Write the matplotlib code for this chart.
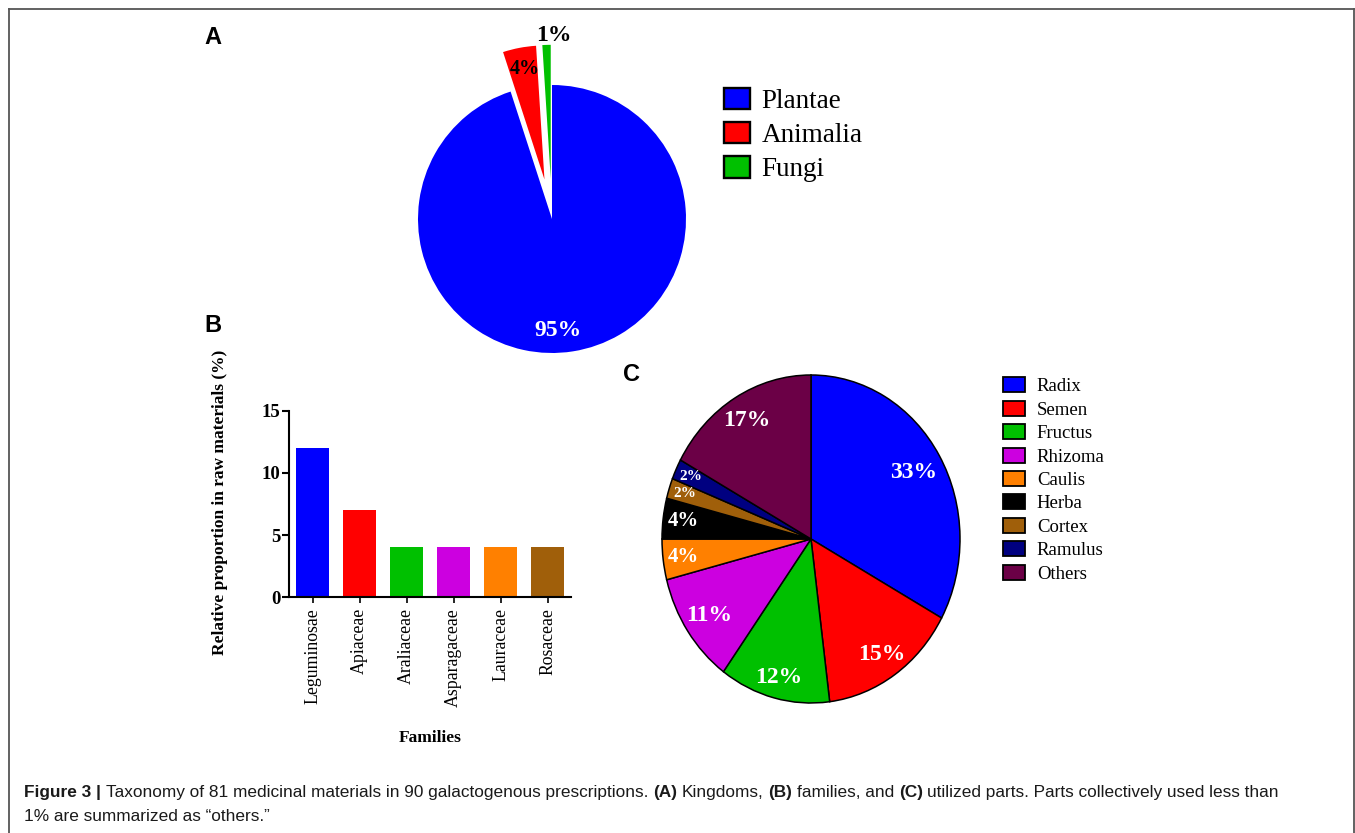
import numpy as np
import matplotlib
matplotlib.use("Agg")
import matplotlib.pyplot as plt
from matplotlib.lines import Line2D
from matplotlib.patches import Patch

# ---------------- data ----------------
kingdoms = ["Plantae", "Animalia", "Fungi"]
kingdom_pct = [95, 4, 1]
kingdom_colors = ["#0000FF", "#FF0000", "#00C000"]

families = ["Leguminosae", "Apiaceae", "Araliaceae", "Asparagaceae", "Lauraceae", "Rosaceae"]
family_pct = [12, 7, 4, 4, 4, 4]
family_colors = ["#0000FF", "#FF0000", "#00C000", "#CC00E0", "#FF8000", "#A05F0A"]

parts = ["Radix", "Semen", "Fructus", "Rhizoma", "Caulis", "Herba", "Cortex", "Ramulus", "Others"]
part_pct = [33, 15, 12, 11, 4, 4, 2, 2, 17]
part_colors = ["#0000FF", "#FF0000", "#00C000", "#CC00E0", "#FF8000", "#000000",
               "#A05F0A", "#000080", "#6B0046"]

W, H = 1355, 833
SERIF = "Liberation Serif"
SANS = "Liberation Sans"

fig = plt.figure(figsize=(W / 100, H / 100), dpi=100)
fig.patch.set_facecolor("white")


def px_axes(left, top, width, height):
    """Create axes from pixel geometry (origin at top-left)."""
    return fig.add_axes([left / W, 1 - (top + height) / H, width / W, height / H])


# ---------------- panel A: kingdoms ----------------
ra = 134.0
cxa, cya = 552.0, 219.0
lim_a = 1.4
axA = px_axes(cxa - lim_a * ra, cya - lim_a * ra, 2 * lim_a * ra, 2 * lim_a * ra)
explode_a = [0.0, 0.3, 0.3]
wedgesA, _ = axA.pie(kingdom_pct, colors=kingdom_colors, startangle=90, counterclock=False,
                     explode=explode_a, wedgeprops=dict(linewidth=0))
axA.set_aspect("auto")
axA.set_xlim(-lim_a, lim_a)
axA.set_ylim(-lim_a, lim_a)

# label placement (radius from wedge centre, angle shift, size, colour)
label_a_style = [(0.83, -6, 17, "white"), (0.84, -1, 14.5, "black"), (1.07, -3, 17, "black")]
for w, val, ex, (r, dth, fs, col) in zip(wedgesA, kingdom_pct, explode_a, label_a_style):
    mid = np.deg2rad((w.theta1 + w.theta2) / 2)
    ox, oy = ex * np.cos(mid), ex * np.sin(mid)
    ang = mid + np.deg2rad(dth)
    axA.text(ox + r * np.cos(ang), oy + r * np.sin(ang), f"{val}%", ha="center", va="center",
             fontsize=fs, fontweight="bold", color=col, family=SERIF)

handlesA = [Patch(facecolor=c, edgecolor="black", linewidth=1.7) for c in kingdom_colors]
fig.legend(handlesA, kingdoms, loc="upper left", bbox_to_anchor=(710 / W, 1 - 74 / H),
           frameon=False, prop=dict(family=SERIF, size=19.5), handlelength=0.96,
           handleheight=0.85, handletextpad=0.45, labelspacing=0.3, borderpad=0)

# ---------------- panel B: families ----------------
axB = px_axes(289, 411, 571 - 289, 597 - 411)
xpos = np.arange(len(families))
axB.bar(xpos, family_pct, width=0.7, color=family_colors)
axB.set_xlim(-0.5, 5.5)
axB.set_ylim(0, 15)
axB.set_yticks([0, 5, 10, 15])
axB.set_xticks(xpos)
axB.set_xticklabels(families, rotation=90, family=SERIF, fontsize=12.8)
for lab in axB.get_yticklabels():
    lab.set_family(SERIF)
    lab.set_fontweight("bold")
    lab.set_fontsize(13.5)
for s in ["top", "right"]:
    axB.spines[s].set_visible(False)
for s in ["left", "bottom"]:
    axB.spines[s].set_linewidth(1.5)
axB.tick_params(axis="y", direction="out", length=5, width=1.5, pad=1)
axB.tick_params(axis="x", direction="out", length=4, width=1.2, pad=4)
axB.set_ylabel("Relative proportion in raw materials (%)", family=SERIF, fontweight="bold",
               fontsize=12.5)
axB.yaxis.set_label_coords(-(289 - 228) / (571 - 289), (597 - 502) / (597 - 411))
axB.text(0.5, 1 - (738 - 411) / (597 - 411), "Families", transform=axB.transAxes,
         ha="center", va="center", family=SERIF, fontweight="bold", fontsize=12.5)

# ---------------- panel C: utilized parts ----------------
rxc, ryc = 149.0, 164.0
cxc, cyc = 811.0, 539.0
lim_c = 1.2
axC = px_axes(cxc - lim_c * rxc, cyc - lim_c * ryc, 2 * lim_c * rxc, 2 * lim_c * ryc)
wedgesC, _ = axC.pie(part_pct, colors=part_colors, startangle=90, counterclock=False,
                     wedgeprops=dict(edgecolor="black", linewidth=1.1))
axC.set_aspect("auto")
axC.set_xlim(-lim_c, lim_c)
axC.set_ylim(-lim_c, lim_c)

label_c_r = [0.80, 0.85, 0.87, 0.83, 0.86, 0.86, 0.89, 0.89, 0.84]
label_c_fs = [17, 17, 17, 17, 15, 15, 11, 11, 17]
for w, val, r, fs in zip(wedgesC, part_pct, label_c_r, label_c_fs):
    mid = np.deg2rad((w.theta1 + w.theta2) / 2)
    axC.text(r * np.cos(mid), r * np.sin(mid), f"{val}%", ha="center", va="center",
             fontsize=fs, fontweight="bold", color="white", family=SERIF)

handlesC = [Patch(facecolor=c, edgecolor="black", linewidth=1.3) for c in part_colors]
fig.legend(handlesC, parts, loc="upper left", bbox_to_anchor=(994 / W, 1 - 368 / H),
           frameon=False, prop=dict(family=SERIF, size=13.5), handlelength=1.17,
           handleheight=0.85, handletextpad=0.62, labelspacing=0.29, borderpad=0)

# ---------------- panel letters ----------------
for letter, (x, y) in zip("ABC", [(213, 37), (213, 325), (631, 374)]):
    fig.text(x / W, 1 - y / H, letter, ha="center", va="center", family=SANS,
             fontweight="bold", fontsize=17)

# ---------------- caption ----------------
renderer = fig.canvas.get_renderer()
CAP_FS = 12.4


def text_width(s, weight):
    t = fig.text(0, 0, s, fontsize=CAP_FS, fontweight=weight, family=SANS)
    w = t.get_window_extent(renderer).width
    t.remove()
    return w


space_w = text_width("a a", "normal") - text_width("aa", "normal")


def rich_line(pieces, x0, y_base):
    x = x0
    for s, weight in pieces:
        if s.startswith(" "):
            x += space_w
        core = s.strip()
        t = fig.text(x / W, 1 - y_base / H, core, fontsize=CAP_FS, fontweight=weight,
                     family=SANS, ha="left", va="baseline", color="#1a1a1a")
        x += t.get_window_extent(renderer).width
        if s.endswith(" "):
            x += space_w


rich_line([("Figure 3 ", "bold"), ("| ", "bold"),
           ("Taxonomy of 81 medicinal materials in 90 galactogenous prescriptions. ", "normal"),
           ("(A)", "bold"), (" Kingdoms, ", "normal"), ("(B)", "bold"),
           (" families, and ", "normal"), ("(C)", "bold"),
           (" utilized parts. Parts collectively used less than", "normal")], 24, 797)
rich_line([("1% are summarized as \u201cothers.\u201d", "normal")], 24, 821)

# ---------------- outer frame ----------------
frame_kw = dict(color="#555555", linewidth=1.3, transform=fig.transFigure)
fig.add_artist(Line2D([9 / W, 9 / W], [0, 1 - 8.5 / H], **frame_kw))
fig.add_artist(Line2D([9 / W, 1353.5 / W], [1 - 8.5 / H, 1 - 8.5 / H], **frame_kw))
fig.add_artist(Line2D([1353.5 / W, 1353.5 / W], [0, 1 - 8.5 / H], **frame_kw))

fig.savefig("out.png", dpi=100)
